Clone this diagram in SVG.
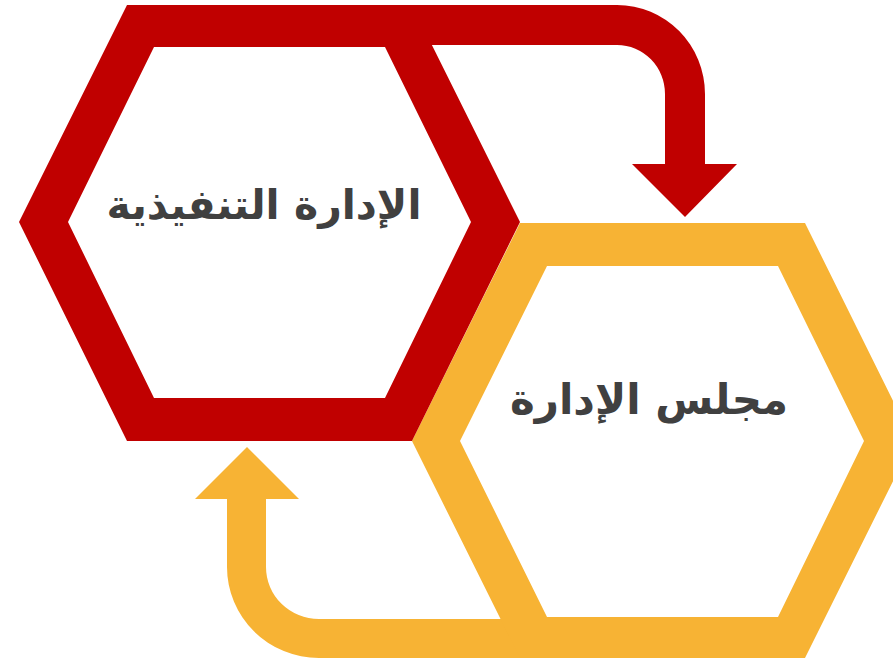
<svg xmlns="http://www.w3.org/2000/svg" width="893" height="661" viewBox="0 0 893 661">
<style>
.red{fill:#C00000}
.gold{fill:#F7B334}
.lbl{font-family:"DejaVu Sans","Noto Sans",sans-serif;font-weight:bold;fill:#404040;text-anchor:middle}
</style>
<rect width="893" height="661" fill="#FFFFFF"/>
<g id="connectors">
<path id="arrow-exec-to-board" class="red" d="M400,5 L617,5 A88,89 0 0 1 705,94 L705,164 L737,164 L685,217 L632,164 L665,164 L665,94 A48,49 0 0 0 617,45 L400,45 Z"/>
<path id="arrow-board-to-exec" class="gold" d="M247,447 L299,499 L266,499 L266,567 A53,52 0 0 0 319,619 L530,619 L530,658 L319,658 A92,91 0 0 1 227,567 L227,499 L195,499 Z"/>
</g>
<g id="node-board">
<path class="gold" fill-rule="evenodd" d="M520,223 L805,223 L913,441 L805,658 L520,658 L412,441 Z M547,266 L460,441 L547,617 L778,617 L864,441 L778,266 Z"/>
<text class="lbl" x="649" y="414" font-size="42" direction="rtl">مجلس الإدارة</text>
</g>
<g id="node-exec">
<path class="red" fill-rule="evenodd" d="M127,5 L412,5 L520,222 L412,441 L127,441 L19,222 Z M154,47 L68,222 L154,398 L385,398 L471,222 L385,47 Z"/>
<text class="lbl" x="264" y="219" font-size="41" direction="rtl">الإدارة التنفيذية</text>
</g>
</svg>
